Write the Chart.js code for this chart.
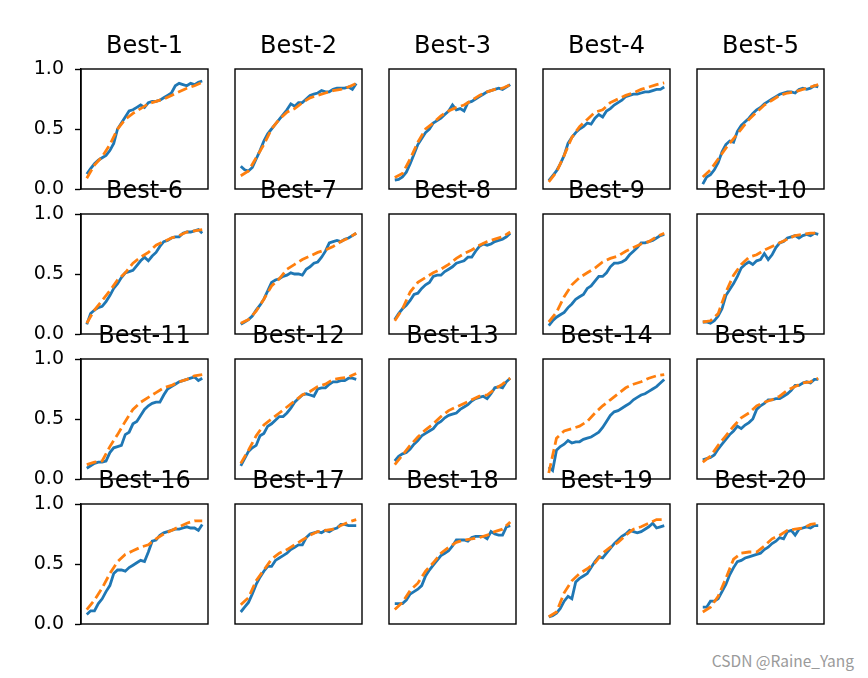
<!DOCTYPE html>
<html>
<head>
<meta charset="utf-8">
<script src="https://cdn.jsdelivr.net/npm/chart.js@4.4.1/dist/chart.umd.min.js"></script>
<style>
  body { margin: 0; background: #fff; width: 868px; height: 678px; position: relative; overflow: hidden; }
  canvas { position: absolute; }
  #mark { position: absolute; right: 14px; top: 649px; font: 15.5px "Noto Sans CJK SC", sans-serif; color: #9a9a9a; }
</style>
</head>
<body>
<div id="mark">CSDN @Raine_Yang</div>
<script>
// titel der einzelnen plots
const titles = ["Best-1", "Best-2", "Best-3", "Best-4", "Best-5", "Best-6", "Best-7", "Best-8", "Best-9", "Best-10",
                "Best-11", "Best-12", "Best-13", "Best-14", "Best-15", "Best-16", "Best-17", "Best-18", "Best-19", "Best-20"];

// x werte: blau jeder schritt, orange jeder zweite
const stepsBlue = [0,1,2,3,4,5,6,7,8,9,10,11,12,13,14,15,16,17,18,19,20,21,22,23,24,25,26,27,28,29,30];
const stepsOrange = [0,2,4,6,8,10,12,14,16,18,20,22,24,26,28,30];
const yTicks = [0, 0.5, 1.0];

// werte
const blue1 = [0.125,0.17,0.21,0.24,0.26,0.28,0.32,0.38,0.50,0.55,0.60,0.65,0.66,0.68,0.70,0.68,0.72,0.73,0.73,0.74,0.76,0.78,0.80,0.86,0.88,0.87,0.86,0.88,0.87,0.89,0.90];
const orange1 = [0.09,0.20,0.27,0.37,0.50,0.58,0.63,0.67,0.71,0.73,0.75,0.78,0.81,0.84,0.86,0.89];
const blue2 = [0.19,0.16,0.15,0.18,0.25,0.32,0.40,0.46,0.50,0.54,0.58,0.62,0.66,0.71,0.69,0.72,0.72,0.75,0.78,0.79,0.80,0.82,0.81,0.81,0.83,0.84,0.84,0.84,0.85,0.83,0.88];
const orange2 = [0.11,0.15,0.26,0.37,0.50,0.58,0.64,0.67,0.72,0.76,0.78,0.80,0.82,0.83,0.85,0.88];
const blue3 = [0.075,0.08,0.10,0.14,0.21,0.29,0.37,0.42,0.47,0.50,0.55,0.57,0.59,0.62,0.65,0.70,0.66,0.67,0.65,0.72,0.73,0.75,0.77,0.79,0.81,0.82,0.83,0.84,0.83,0.85,0.87];
const orange3 = [0.095,0.13,0.25,0.39,0.50,0.55,0.61,0.65,0.68,0.70,0.74,0.78,0.81,0.83,0.84,0.87];
const blue4 = [0.07,0.11,0.15,0.21,0.28,0.38,0.43,0.47,0.50,0.52,0.55,0.54,0.59,0.62,0.60,0.65,0.67,0.70,0.72,0.74,0.77,0.78,0.79,0.79,0.80,0.81,0.81,0.82,0.83,0.83,0.85];
const orange4 = [0.06,0.14,0.28,0.43,0.52,0.58,0.64,0.66,0.72,0.75,0.78,0.80,0.83,0.85,0.87,0.885];
const blue5 = [0.04,0.10,0.12,0.16,0.22,0.31,0.37,0.40,0.39,0.48,0.53,0.56,0.59,0.63,0.66,0.68,0.71,0.73,0.75,0.77,0.79,0.80,0.81,0.81,0.80,0.83,0.84,0.83,0.84,0.86,0.85];
const orange5 = [0.10,0.16,0.25,0.34,0.42,0.50,0.58,0.64,0.70,0.74,0.78,0.80,0.81,0.83,0.85,0.87];
const blue6 = [0.08,0.17,0.20,0.22,0.23,0.27,0.32,0.38,0.42,0.47,0.51,0.52,0.53,0.57,0.61,0.64,0.61,0.65,0.68,0.73,0.77,0.78,0.80,0.81,0.81,0.84,0.85,0.85,0.86,0.87,0.84];
const orange6 = [0.09,0.20,0.28,0.36,0.45,0.51,0.59,0.64,0.68,0.74,0.77,0.80,0.82,0.85,0.86,0.87];
const blue7 = [0.08,0.10,0.12,0.15,0.20,0.24,0.29,0.36,0.43,0.45,0.46,0.48,0.49,0.51,0.50,0.50,0.49,0.54,0.56,0.59,0.60,0.64,0.69,0.76,0.77,0.78,0.77,0.79,0.80,0.82,0.84];
const orange7 = [0.09,0.12,0.19,0.29,0.40,0.46,0.54,0.58,0.62,0.65,0.68,0.70,0.73,0.77,0.80,0.84];
const blue8 = [0.12,0.17,0.21,0.24,0.28,0.33,0.34,0.38,0.41,0.43,0.48,0.49,0.49,0.52,0.54,0.56,0.59,0.60,0.61,0.64,0.64,0.69,0.73,0.75,0.74,0.75,0.77,0.78,0.79,0.81,0.84];
const orange8 = [0.11,0.21,0.35,0.43,0.47,0.51,0.54,0.58,0.63,0.67,0.70,0.74,0.77,0.79,0.81,0.85];
const blue9 = [0.07,0.11,0.14,0.16,0.18,0.22,0.25,0.29,0.31,0.33,0.38,0.40,0.44,0.48,0.48,0.51,0.56,0.59,0.59,0.60,0.62,0.66,0.69,0.72,0.76,0.76,0.77,0.78,0.80,0.82,0.83];
const orange9 = [0.10,0.18,0.31,0.41,0.47,0.51,0.55,0.60,0.63,0.65,0.69,0.72,0.75,0.77,0.81,0.84];
const blue10 = [0.10,0.10,0.09,0.11,0.15,0.21,0.32,0.37,0.42,0.48,0.55,0.58,0.60,0.58,0.61,0.62,0.67,0.62,0.66,0.72,0.76,0.77,0.80,0.81,0.82,0.80,0.82,0.83,0.82,0.84,0.83];
const orange10 = [0.10,0.11,0.17,0.35,0.49,0.58,0.64,0.66,0.70,0.73,0.76,0.79,0.82,0.83,0.84,0.84];
const blue11 = [0.09,0.11,0.13,0.14,0.14,0.15,0.22,0.26,0.27,0.28,0.37,0.39,0.46,0.48,0.53,0.58,0.61,0.63,0.64,0.64,0.70,0.75,0.77,0.79,0.81,0.82,0.83,0.84,0.85,0.82,0.84];
const orange11 = [0.12,0.14,0.15,0.27,0.37,0.48,0.58,0.64,0.68,0.72,0.76,0.78,0.81,0.83,0.86,0.87];
const blue12 = [0.11,0.17,0.23,0.26,0.28,0.36,0.38,0.44,0.46,0.49,0.52,0.52,0.55,0.59,0.64,0.67,0.70,0.71,0.70,0.69,0.75,0.76,0.76,0.79,0.81,0.81,0.82,0.82,0.84,0.84,0.83];
const orange12 = [0.13,0.24,0.36,0.45,0.50,0.55,0.60,0.65,0.70,0.73,0.77,0.79,0.83,0.84,0.85,0.88];
const blue13 = [0.15,0.19,0.21,0.22,0.25,0.29,0.32,0.36,0.38,0.40,0.42,0.46,0.48,0.51,0.53,0.54,0.55,0.58,0.60,0.62,0.65,0.67,0.68,0.69,0.67,0.71,0.76,0.77,0.76,0.81,0.84];
const orange13 = [0.12,0.20,0.28,0.35,0.41,0.46,0.52,0.57,0.60,0.63,0.66,0.69,0.70,0.75,0.79,0.84];
const blue14 = [0.10,0.07,0.24,0.27,0.29,0.32,0.30,0.31,0.31,0.33,0.34,0.35,0.37,0.39,0.43,0.48,0.53,0.56,0.57,0.59,0.61,0.63,0.66,0.68,0.70,0.71,0.73,0.75,0.77,0.80,0.83];
const orange14 = [0.05,0.34,0.40,0.42,0.44,0.48,0.55,0.61,0.66,0.71,0.76,0.79,0.81,0.84,0.86,0.87];
const blue15 = [0.16,0.17,0.18,0.20,0.25,0.29,0.33,0.37,0.40,0.44,0.42,0.45,0.47,0.50,0.58,0.61,0.63,0.66,0.66,0.67,0.67,0.69,0.71,0.74,0.78,0.78,0.80,0.81,0.80,0.83,0.83];
const orange15 = [0.14,0.19,0.28,0.36,0.44,0.51,0.55,0.61,0.64,0.66,0.69,0.74,0.77,0.80,0.81,0.84];
const blue16 = [0.08,0.11,0.11,0.17,0.21,0.27,0.32,0.42,0.45,0.45,0.44,0.47,0.49,0.51,0.53,0.52,0.60,0.69,0.70,0.74,0.76,0.77,0.78,0.79,0.79,0.80,0.81,0.80,0.80,0.78,0.83];
const orange16 = [0.12,0.20,0.30,0.42,0.52,0.58,0.61,0.64,0.66,0.71,0.75,0.78,0.81,0.84,0.86,0.86];
const blue17 = [0.10,0.14,0.18,0.25,0.33,0.39,0.44,0.48,0.48,0.53,0.55,0.57,0.59,0.62,0.64,0.66,0.66,0.72,0.75,0.76,0.77,0.76,0.78,0.77,0.79,0.80,0.83,0.83,0.82,0.82,0.82];
const orange17 = [0.16,0.22,0.36,0.45,0.54,0.59,0.62,0.66,0.70,0.74,0.77,0.78,0.79,0.82,0.85,0.87];
const blue18 = [0.17,0.17,0.17,0.20,0.25,0.27,0.29,0.32,0.40,0.45,0.49,0.53,0.57,0.59,0.61,0.65,0.70,0.70,0.70,0.69,0.72,0.73,0.73,0.73,0.71,0.77,0.75,0.74,0.74,0.81,0.82];
const orange18 = [0.12,0.18,0.28,0.34,0.44,0.51,0.59,0.64,0.68,0.70,0.71,0.72,0.74,0.77,0.79,0.85];
const blue19 = [0.06,0.07,0.09,0.13,0.19,0.23,0.21,0.35,0.38,0.40,0.42,0.47,0.52,0.56,0.55,0.59,0.63,0.67,0.70,0.73,0.75,0.78,0.77,0.76,0.77,0.79,0.81,0.84,0.80,0.81,0.82];
const orange19 = [0.06,0.10,0.26,0.36,0.42,0.46,0.51,0.59,0.64,0.68,0.74,0.79,0.81,0.84,0.87,0.87];
const blue20 = [0.14,0.14,0.19,0.19,0.21,0.27,0.33,0.41,0.47,0.52,0.53,0.55,0.56,0.57,0.58,0.59,0.62,0.64,0.67,0.69,0.72,0.71,0.77,0.78,0.74,0.79,0.80,0.81,0.80,0.82,0.82];
const orange20 = [0.10,0.14,0.23,0.38,0.54,0.59,0.60,0.60,0.65,0.71,0.74,0.78,0.79,0.80,0.83,0.84];

const blueSeries = [blue1, blue2, blue3, blue4, blue5, blue6, blue7, blue8, blue9, blue10,
                    blue11, blue12, blue13, blue14, blue15, blue16, blue17, blue18, blue19, blue20];
const orangeSeries = [orange1, orange2, orange3, orange4, orange5, orange6, orange7, orange8, orange9, orange10,
                      orange11, orange12, orange13, orange14, orange15, orange16, orange17, orange18, orange19, orange20];

// lage der achsenkaesten im bild
const colLeft = [81, 235, 389, 543, 697];
const rowTop = [69, 214, 359, 504];
const boxW = 127, boxH = 120;
const padT = 37, padB = 14, padR = 10, axisW = 60;

// rahmen um die plotflaeche
const frame = {
    id: 'frame',
    afterDatasetsDraw(chart) {
        const a = chart.chartArea, ctx = chart.ctx;
        ctx.save();
        ctx.strokeStyle = '#000';
        ctx.lineWidth = 1.4;
        ctx.strokeRect(a.left, a.top, a.right - a.left, a.bottom - a.top);
        ctx.restore();
    }
};

function makePlot(k) {
    const row = Math.floor(k / 5), col = k % 5;
    const first = col === 0;
    const padL = first ? axisW : 10;
    const cv = document.createElement('canvas');
    cv.width = boxW + padL + padR;
    cv.height = boxH + padT + padB;
    cv.style.width = cv.width + 'px';
    cv.style.height = cv.height + 'px';
    cv.style.left = (colLeft[col] - padL) + 'px';
    cv.style.top = (rowTop[row] - padT) + 'px';
    document.body.appendChild(cv);

    new Chart(cv, {
        type: 'line',
        data: {
            datasets: [{
                data: stepsBlue.map((x, i) => ({ x: x, y: blueSeries[k][i] })),
                borderColor: '#1f77b4',
                borderWidth: 2.8,
                pointRadius: 0,
                order: 2
            }, {
                data: stepsOrange.map((x, i) => ({ x: x, y: orangeSeries[k][i] })),
                borderColor: '#ff7f0e',
                borderWidth: 2.8,
                borderDash: [10, 4.5],
                pointRadius: 0,
                order: 1
            }]
        },
        options: {
            responsive: false,
            animation: false,
            layout: { padding: { left: first ? 0 : padL, right: padR, top: 0, bottom: padB } },
            plugins: {
                legend: { display: false },
                tooltip: { enabled: false },
                title: {
                    display: true,
                    fullSize: false,
                    text: titles[k],
                    color: '#000',
                    font: { family: 'DejaVu Sans', size: 24, weight: 'normal', lineHeight: 1.25 },
                    padding: { top: 0, bottom: 7 }
                }
            },
            scales: {
                x: { type: 'linear', min: -1.5, max: 31.5, display: false },
                y: {
                    min: 0,
                    max: 1,
                    display: first,
                    afterFit: s => {
                        if (first) {
                            s.width = axisW;
                            s.paddingTop = 0;
                            s.paddingBottom = 0;
                        }
                    },
                    afterBuildTicks: s => { s.ticks = yTicks.map(v => ({ value: v })); },
                    border: { display: true, color: '#000', width: 1.4 },
                    grid: { display: true, drawOnChartArea: false, drawTicks: true, tickLength: 6, tickWidth: 1.4, tickColor: '#000' },
                    ticks: {
                        padding: 11,
                        color: '#000',
                        font: { family: 'DejaVu Sans', size: 19 },
                        callback: v => v.toFixed(1)
                    }
                }
            }
        },
        plugins: [frame]
    });
}

for (let k = 0; k < 20; k++) {
    makePlot(k);
}
</script>
</body>
</html>
